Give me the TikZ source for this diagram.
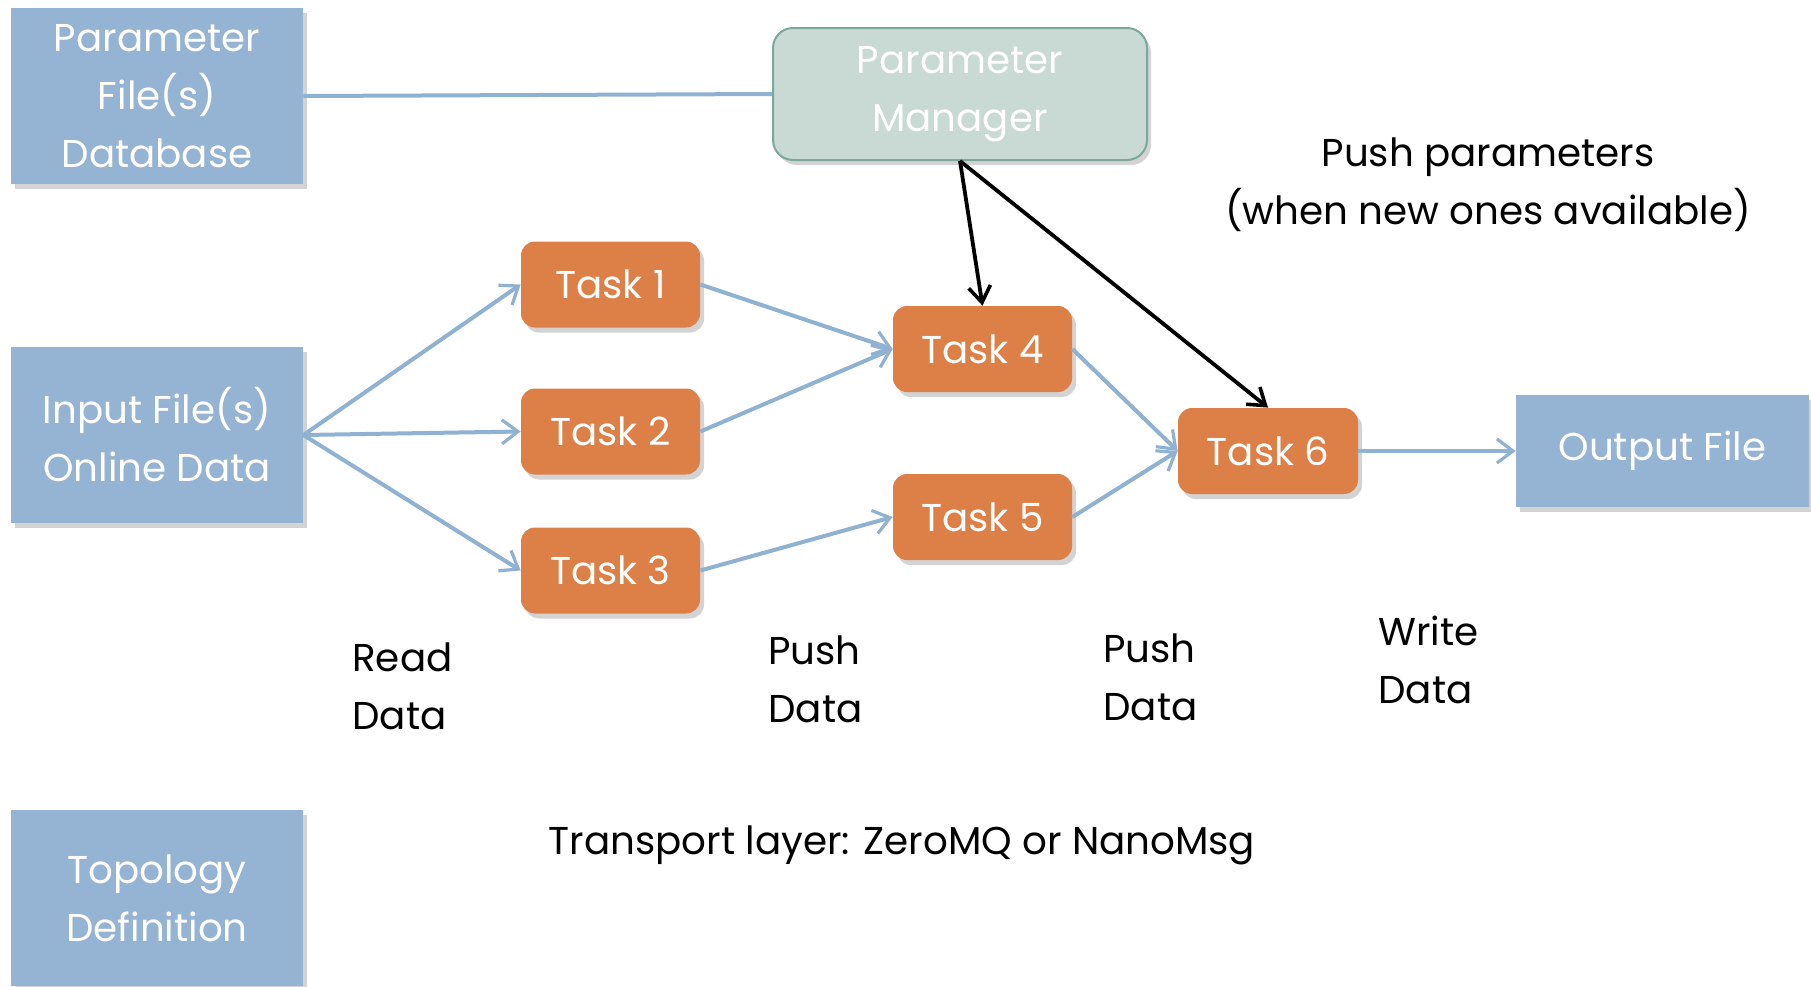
\documentclass[tikz,border=0pt]{standalone}
\usepackage{fontspec}
\setmainfont{Poppins}
\usetikzlibrary{arrows.meta,shadows}
\definecolor{boxblue}{RGB}{149,179,210}
\definecolor{lineblue}{RGB}{143,177,210}
\definecolor{taskorange}{RGB}{221,128,71}
\definecolor{pmfill}{RGB}{201,217,212}
\definecolor{pmborder}{RGB}{122,168,156}
\tikzset{
  txt/.style={font=\fontsize{19.4}{29}\selectfont},
  bluebox/.style={rectangle, fill=boxblue, draw=none, text=white, align=center,
    txt, inner sep=0pt,
    drop shadow={shadow xshift=2pt, shadow yshift=-2.5pt, opacity=0.35}},
  taskbox/.style={rectangle, rounded corners=7pt, fill=taskorange, draw=none, text=white,
    txt, inner sep=0pt, minimum width=89.5pt, minimum height=43pt,
    drop shadow={shadow xshift=2pt, shadow yshift=-2.5pt, opacity=0.35}},
  pmbox/.style={rectangle, rounded corners=10pt, fill=pmfill, draw=pmborder, line width=1pt,
    text=white, align=center, txt, inner sep=0pt,
    minimum width=187pt, minimum height=66pt,
    drop shadow={shadow xshift=2pt, shadow yshift=-2.5pt, opacity=0.35}},
  flow/.style={draw=lineblue, line width=2pt, -{Straight Barb[length=8pt,width=12pt,line width=1.6pt]}},
  plain/.style={draw=lineblue, line width=2pt},
  param/.style={draw=black, line width=1.9pt, -{Straight Barb[length=8pt,width=11pt,line width=1.8pt]}},
  lbl/.style={text=black, align=left, anchor=west, inner sep=0pt, txt},
  lblc/.style={text=black, align=center, inner sep=0pt, txt}
}
\begin{document}
\begin{tikzpicture}[x=0.5pt,y=-0.5pt]
\useasboundingbox (0,0) rectangle (1811,986);
% boxes
\node[bluebox, minimum width=146pt, minimum height=88pt] (pfd) at (157,96) {Parameter\\File(s)\\Database};
\node[pmbox] (pm) at (960,94) {Parameter\\Manager};
\node[bluebox, minimum width=146pt, minimum height=88pt] (inp) at (157,435) {Input File(s)\\Online Data};
\node[bluebox, minimum width=146pt, minimum height=88pt] (topo) at (157,898) {Topology\\Definition};
\node[taskbox] (t1) at (610.5,284.5) {Task 1};
\node[taskbox] (t2) at (610.5,431.5) {Task 2};
\node[taskbox] (t3) at (610.5,570.5) {Task 3};
\node[taskbox] (t4) at (982.5,349) {Task 4};
\node[taskbox] (t5) at (982.5,517) {Task 5};
\node[taskbox, minimum width=90pt] (t6) at (1268,451) {Task 6};
\node[bluebox, minimum width=146.5pt, minimum height=56pt] (out) at (1662.5,451) {Output File};
% connectors
\draw[plain] (pfd.east) -- (pm.west);
\draw[flow] (inp.east) -- (t1.west);
\draw[flow] (inp.east) -- (t2.west);
\draw[flow] (inp.east) -- (t3.west);
\draw[flow] (t1.east) -- (t4.west);
\draw[flow] (t2.east) -- (t4.west);
\draw[flow] (t3.east) -- (t5.west);
\draw[flow] (t4.east) -- (t6.west);
\draw[flow] (t5.east) -- (t6.west);
\draw[flow] (t6.east) -- (out.west);
\draw[param] (pm.south) -- (t4.north);
\draw[param] (pm.south) -- (t6.north);
% labels
\node[lblc] (pp) at (1488,185) {Push parameters\\(when new ones available)};
\node[lbl] (l1) at (352,686) {Read\\Data};
\node[lbl] (l2) at (768,679) {Push\\Data};
\node[lbl] (l3) at (1103,677) {Push\\Data};
\node[lbl] (l4) at (1378,660) {Write\\Data};
\node[lblc] (tl) at (902,845) {Transport layer: ZeroMQ or NanoMsg};
\end{tikzpicture}
\end{document}
